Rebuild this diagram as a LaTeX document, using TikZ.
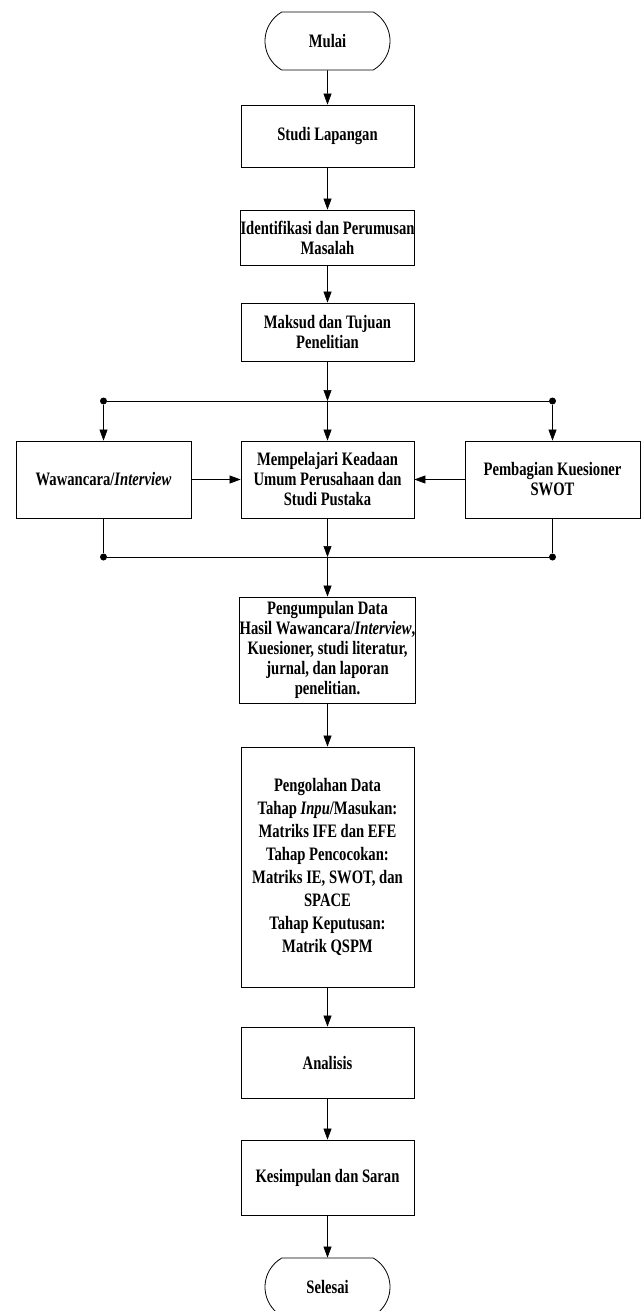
\documentclass[tikz,border=0pt]{standalone}
\usepackage{fontspec}
\setmainfont{Liberation Serif}[FakeStretch=0.77]
\usetikzlibrary{arrows.meta,shapes.misc}

\tikzset{
  box/.style={draw, line width=0.8pt, inner xsep=0pt, align=center, minimum width=173pt,
    font=\bfseries\fontsize{19}{20}\selectfont},
  term/.style={box, rounded rectangle, rounded rectangle arc length=120, minimum width=125pt, minimum height=58pt},
  arr/.style={-{Triangle[length=11pt,width=8pt]}, line width=0.6pt},
  dot/.style={circle, fill, inner sep=0pt, minimum size=7pt},
}

\begin{document}
\begin{tikzpicture}[x=1pt,y=-1pt]
\clip (0,0) rectangle (643,1311);
% alur utama
\node[term] (mulai) at (327.5,41) {Mulai};
\node[box, minimum height=62pt] (studi) at (327.5,136) {Studi Lapangan};
\node[box, minimum height=55pt] (ident) at (327.5,237.5) {Identifikasi dan Perumusan\\Masalah};
\node[box, minimum height=58pt] (maksud) at (327.5,332) {Maksud dan Tujuan\\Penelitian};
% percabangan
\node[dot] (sl) at (103.5,401){};
\coordinate (sm) at (327.5,401);
\node[dot] (sr) at (552.5,401){};
\node[box, minimum width=175pt, minimum height=77pt] (wawan) at (103.5,479.5) {Wawancara/\textit{Interview}};
\node[box, minimum height=77pt] (pelajari) at (327.5,479.5) {Mempelajari Keadaan\\Umum Perusahaan dan\\Studi Pustaka};
\node[box, minimum width=175pt, minimum height=77pt] (bagi) at (552.5,479.5) {Pembagian Kuesioner\\SWOT};
\node[dot] (ml) at (103.5,557){};
\coordinate (mm) at (327.5,557);
\node[dot] (mr) at (552.5,557){};
% pengolahan
\node[box, minimum height=106pt] (kumpul) at (327.5,650) {Pengumpulan Data\\Hasil Wawancara/\textit{Interview},\\Kuesioner, studi literatur,\\jurnal, dan laporan\\penelitian.};
\node[box, minimum height=240pt, font=\bfseries\fontsize{19}{23}\selectfont] (olah) at (327.5,867) {Pengolahan Data\\Tahap \textit{Inpu}/Masukan:\\Matriks IFE dan EFE\\Tahap Pencocokan:\\Matriks IE, SWOT, dan\\SPACE\\Tahap Keputusan:\\Matrik QSPM};
\node[box, minimum height=71pt] (analisis) at (327.5,1062.5) {Analisis};
\node[box, minimum height=75pt] (simpul) at (327.5,1177.5) {Kesimpulan dan Saran};
\node[term] (selesai) at (327.5,1287) {Selesai};

\draw[arr] (mulai) -- (studi);
\draw[arr] (studi) -- (ident);
\draw[arr] (ident) -- (maksud);
\draw[arr] (maksud) -- (sm);
\draw[line width=0.6pt] (sl) -- (sr);
\draw[arr] (sl) -- (wawan);
\draw[arr] (sm) -- (pelajari);
\draw[arr] (sr) -- (bagi);
\draw[arr] (wawan) -- (pelajari);
\draw[arr] (bagi) -- (pelajari);
\draw[line width=0.6pt] (wawan) -- (ml);
\draw[line width=0.6pt] (bagi) -- (mr);
\draw[arr] (pelajari) -- (mm);
\draw[line width=0.6pt] (ml) -- (mr);
\draw[arr] (mm) -- (kumpul);
\draw[arr] (kumpul) -- (olah);
\draw[arr] (olah) -- (analisis);
\draw[arr] (analisis) -- (simpul);
\draw[arr] (simpul) -- (selesai);
\end{tikzpicture}
\end{document}
